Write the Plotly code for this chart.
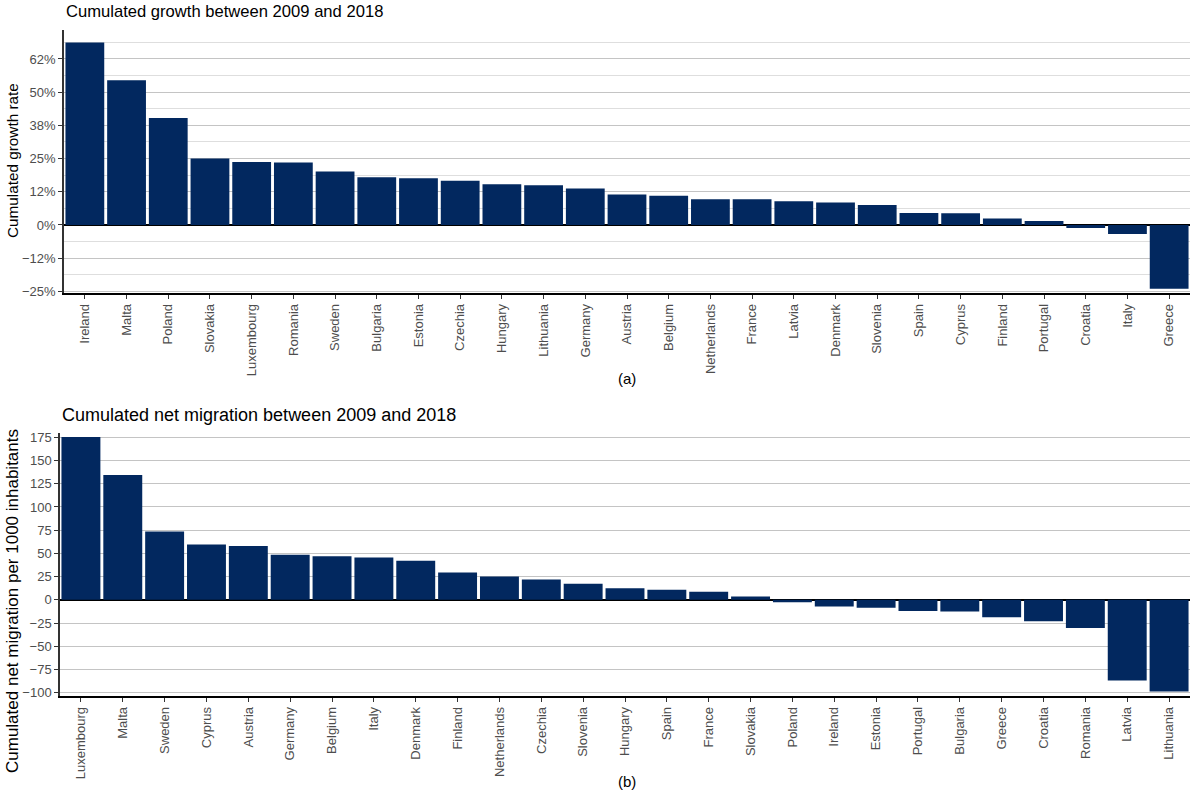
import plotly.graph_objects as go
from plotly.subplots import make_subplots

# panel (a): cumulated growth rate 2009-2018, in percent
growth_countries = [
    "Ireland", "Malta", "Poland", "Slovakia", "Luxembourg", "Romania", "Sweden",
    "Bulgaria", "Estonia", "Czechia", "Hungary", "Lithuania", "Germany", "Austria",
    "Belgium", "Netherlands", "France", "Latvia", "Denmark", "Slovenia", "Spain",
    "Cyprus", "Finland", "Portugal", "Croatia", "Italy", "Greece",
]
growth_values = [
    68.7, 54.5, 40.3, 25.0, 23.7, 23.5, 20.1,
    18.0, 17.6, 16.7, 15.3, 15.0, 13.7, 11.5,
    11.0, 9.7, 9.7, 8.9, 8.5, 7.5, 4.5,
    4.4, 2.4, 1.5, -1.1, -3.4, -24.0,
]
growth_tickvals = [-25, -12.5, 0, 12.5, 25, 37.5, 50, 62.5]
growth_ticktext = ["\u221225%", "\u221212%", "0%", "12%", "25%", "38%", "50%", "62%"]
growth_minor = [-18.75, -6.25, 6.25, 18.75, 31.25, 43.75, 56.25, 68.75]

# panel (b): cumulated net migration per 1000 inhabitants
migr_countries = [
    "Luxembourg", "Malta", "Sweden", "Cyprus", "Austria", "Germany", "Belgium",
    "Italy", "Denmark", "Finland", "Netherlands", "Czechia", "Slovenia", "Hungary",
    "Spain", "France", "Slovakia", "Poland", "Ireland", "Estonia", "Portugal",
    "Bulgaria", "Greece", "Croatia", "Romania", "Latvia", "Lithuania",
]
migr_values = [
    175.2, 134.3, 73.5, 59.7, 57.9, 48.6, 46.8,
    45.7, 42.0, 29.5, 25.0, 22.0, 17.3, 12.6,
    10.8, 8.6, 3.5, -2.5, -7.2, -8.6, -11.9,
    -12.6, -18.8, -23.1, -30.3, -86.9, -98.7,
]
migr_tickvals = [-100, -75, -50, -25, 0, 25, 50, 75, 100, 125, 150, 175]

W, H = 1194, 792
BAR = "#02285F"
FONT = "Liberation Sans, Arial, sans-serif"


def px_x(p):
    return p / W


def px_y(p):
    return 1 - p / H


fig = make_subplots(rows=2, cols=1)

fig.add_trace(go.Bar(x=growth_countries, y=growth_values, marker=dict(color=BAR, line=dict(width=0))), row=1, col=1)
fig.add_trace(go.Bar(x=migr_countries, y=migr_values, marker=dict(color=BAR, line=dict(width=0))), row=2, col=1)

xcommon = dict(
    tickangle=-90, tickfont=dict(size=13, color="#4D4D4D"),
    showline=True, linecolor="black", linewidth=1.5,
    ticks="outside", ticklen=4, tickcolor="#333333",
    showgrid=False, zeroline=False, automargin=False,
)
ycommon = dict(
    tickfont=dict(size=13, color="#4D4D4D"),
    showline=True, linecolor="#333333", linewidth=1.5,
    ticks="outside", ticklen=4, tickcolor="#333333",
    showgrid=True, gridcolor="#C4C4C4", gridwidth=1,
    zeroline=True, zerolinecolor="black", zerolinewidth=1.5,
    automargin=False,
)

fig.update_xaxes(domain=[px_x(64), px_x(1190)], row=1, col=1, **xcommon)
fig.update_xaxes(domain=[px_x(60), px_x(1190)], row=2, col=1, **xcommon)

fig.update_yaxes(
    domain=[px_y(293), px_y(30)], range=[-25.6, 73.4],
    tickvals=growth_tickvals, ticktext=growth_ticktext,
    minor=dict(tickvals=growth_minor, showgrid=True, gridcolor="#DEDEDE", gridwidth=1, ticks=""),
    row=1, col=1, **ycommon,
)
fig.update_yaxes(
    domain=[px_y(696), px_y(433)], range=[-103.5, 179.6],
    tickvals=migr_tickvals,
    row=2, col=1, **ycommon,
)

annotations = [
    dict(text="Cumulated growth between 2009 and 2018", x=px_x(64), y=px_y(12),
         xanchor="left", yanchor="middle", font=dict(size=16.6, color="black")),
    dict(text="Cumulated net migration between 2009 and 2018", x=px_x(60), y=px_y(415),
         xanchor="left", yanchor="middle", font=dict(size=18, color="black")),
    dict(text="Cumulated growth rate", x=px_x(12), y=px_y(161), textangle=-90,
         xanchor="center", yanchor="middle", font=dict(size=15.3, color="black")),
    dict(text="Cumulated net migration per 1000 inhabitants", x=px_x(12), y=px_y(601), textangle=-90,
         xanchor="center", yanchor="middle", font=dict(size=17, color="black")),
    dict(text="(a)", x=px_x(627), y=px_y(378), xanchor="center", yanchor="middle",
         font=dict(size=15, color="black")),
    dict(text="(b)", x=px_x(627), y=px_y(781), xanchor="center", yanchor="middle",
         font=dict(size=15, color="black")),
]
for a in annotations:
    a.update(xref="paper", yref="paper", showarrow=False)

fig.update_layout(
    width=W, height=H,
    margin=dict(l=0, r=0, t=0, b=0, pad=0, autoexpand=False),
    paper_bgcolor="white", plot_bgcolor="white",
    font=dict(family=FONT),
    showlegend=False,
    bargap=0.07,
    annotations=annotations,
)

# drop the browser's default body margin so the figure sits at (0, 0) and the page is exactly H tall
fig.write_html(
    "out.html",
    config={"displayModeBar": False},
    post_script=(
        "document.documentElement.style.margin='0';"
        "document.documentElement.style.overflow='hidden';"
        "document.body.style.margin='0';"
        "document.body.style.overflow='hidden';"
        "document.body.style.height='792px';"
    ),
)
